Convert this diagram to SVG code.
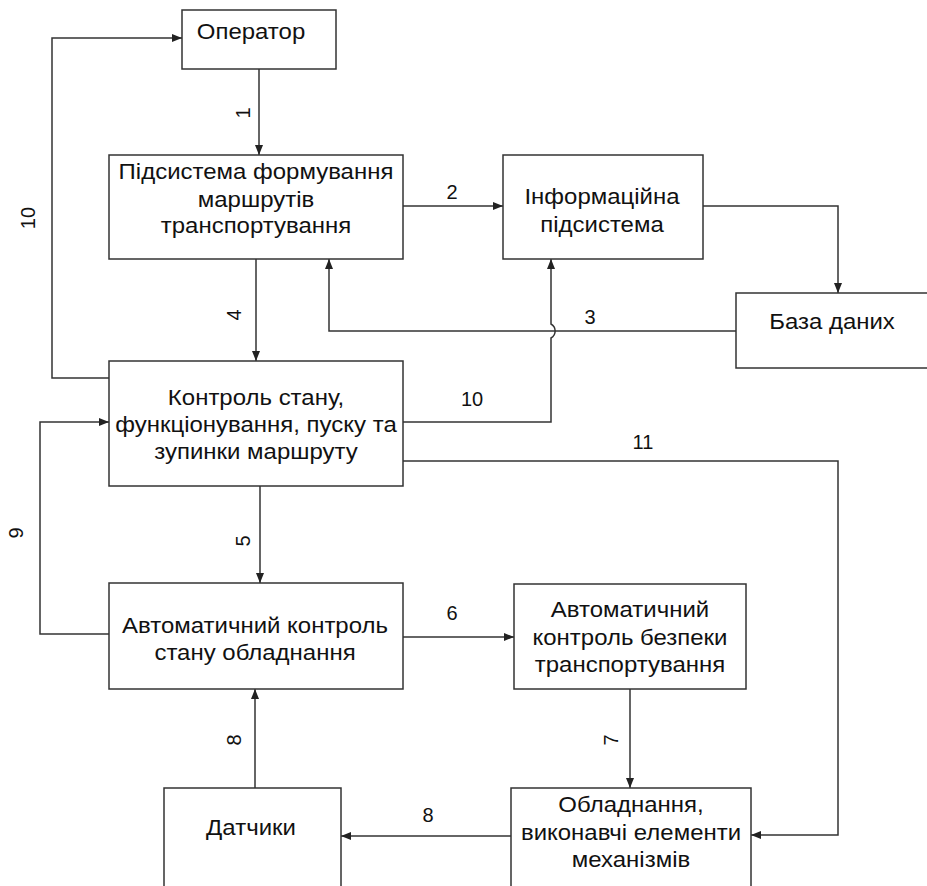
<svg xmlns="http://www.w3.org/2000/svg" width="927" height="886" viewBox="0 0 927 886">
<defs>
<marker id="ar" viewBox="0 0 10 10" refX="10" refY="5" markerWidth="10" markerHeight="10" markerUnits="userSpaceOnUse" orient="auto">
<path d="M0,1 L10,5 L0,9 Z" fill="#222"/>
</marker>
</defs>
<style>
.box{fill:#fff;stroke:#333;stroke-width:1.5}
.t{font-family:"Liberation Sans",Arial,sans-serif;font-size:22px;fill:#111;text-anchor:middle}
.n{font-family:"Liberation Sans",Arial,sans-serif;font-size:20px;fill:#111;text-anchor:middle}
.c{fill:none;stroke:#333;stroke-width:1.5}
</style>
<rect width="927" height="886" fill="#fff"/>
<g id="connectors">
<path class="c" d="M259,69 V155" marker-end="url(#ar)"/>
<path class="c" d="M403,206 H503" marker-end="url(#ar)"/>
<path class="c" d="M703,206 H838 V293" marker-end="url(#ar)"/>
<path class="c" d="M736,331 H329 V259" marker-end="url(#ar)"/>
<path class="c" d="M256,259 V361" marker-end="url(#ar)"/>
<path class="c" d="M109,378 H52 V38 H182" marker-end="url(#ar)"/>
<path class="c" d="M403,422 H551 V338 A8,8 0 0,0 551,324 V259" marker-end="url(#ar)"/>
<path class="c" d="M403,461 H838 V835 H751" marker-end="url(#ar)"/>
<path class="c" d="M260,486 V583" marker-end="url(#ar)"/>
<path class="c" d="M109,634 H40 V422 H109" marker-end="url(#ar)"/>
<path class="c" d="M403,637 H514" marker-end="url(#ar)"/>
<path class="c" d="M630,689 V788" marker-end="url(#ar)"/>
<path class="c" d="M511,836 H341" marker-end="url(#ar)"/>
<path class="c" d="M255,788 V689" marker-end="url(#ar)"/>
</g>
<g id="labels">
<text class="n" transform="translate(243,113) rotate(-90)" y="7">1</text>
<text class="n" transform="translate(28,218) rotate(-90)" y="7">10</text>
<text class="n" x="452" y="199">2</text>
<text class="n" x="590" y="324">3</text>
<text class="n" transform="translate(234,315) rotate(-90)" y="7">4</text>
<text class="n" x="472" y="406">10</text>
<text class="n" x="643" y="449">11</text>
<text class="n" transform="translate(243,541) rotate(-90)" y="7">5</text>
<text class="n" transform="translate(16,533) rotate(-90)" y="7">9</text>
<text class="n" x="452" y="620">6</text>
<text class="n" transform="translate(611,740) rotate(-90)" y="7">7</text>
<text class="n" transform="translate(234,740) rotate(-90)" y="7">8</text>
<text class="n" x="428" y="822">8</text>
</g>
<g id="operator">
<rect class="box" x="182" y="10" width="154" height="59"/>
<text class="t" transform="translate(251,39) scale(1.09,1)">Оператор</text>
</g>
<g id="routes">
<rect class="box" x="109" y="155" width="294" height="104"/>
<text class="t" transform="translate(256,179) scale(1.09,1)">Підсистема формування</text>
<text class="t" transform="translate(256,207) scale(1.09,1)">маршрутів</text>
<text class="t" transform="translate(256,233) scale(1.09,1)">транспортування</text>
</g>
<g id="info">
<rect class="box" x="503" y="155" width="200" height="104"/>
<text class="t" transform="translate(602,204) scale(1.09,1)">Інформаційна</text>
<text class="t" transform="translate(602,232) scale(1.09,1)">підсистема</text>
</g>
<g id="db">
<rect class="box" x="736" y="293" width="200" height="75"/>
<text class="t" transform="translate(832,329) scale(1.09,1)">База даних</text>
</g>
<g id="control">
<rect class="box" x="109" y="361" width="294" height="125"/>
<text class="t" transform="translate(256,405) scale(1.09,1)">Контроль стану,</text>
<text class="t" transform="translate(256,432) scale(1.09,1)">функціонування, пуску та</text>
<text class="t" transform="translate(256,459) scale(1.09,1)">зупинки маршруту</text>
</g>
<g id="autocontrol">
<rect class="box" x="109" y="583" width="294" height="106"/>
<text class="t" transform="translate(255,633) scale(1.09,1)">Автоматичний контроль</text>
<text class="t" transform="translate(255,660) scale(1.09,1)">стану обладнання</text>
</g>
<g id="safety">
<rect class="box" x="514" y="584" width="232" height="105"/>
<text class="t" transform="translate(630,617) scale(1.09,1)">Автоматичний</text>
<text class="t" transform="translate(630,645) scale(1.09,1)">контроль безпеки</text>
<text class="t" transform="translate(630,672) scale(1.09,1)">транспортування</text>
</g>
<g id="sensors">
<rect class="box" x="164" y="788" width="177" height="120"/>
<text class="t" transform="translate(251,835) scale(1.09,1)">Датчики</text>
</g>
<g id="equipment">
<rect class="box" x="511" y="788" width="240" height="120"/>
<text class="t" transform="translate(631,812) scale(1.09,1)">Обладнання,</text>
<text class="t" transform="translate(631,840) scale(1.09,1)">виконавчі елементи</text>
<text class="t" transform="translate(631,867) scale(1.09,1)">механізмів</text>
</g>
</svg>
